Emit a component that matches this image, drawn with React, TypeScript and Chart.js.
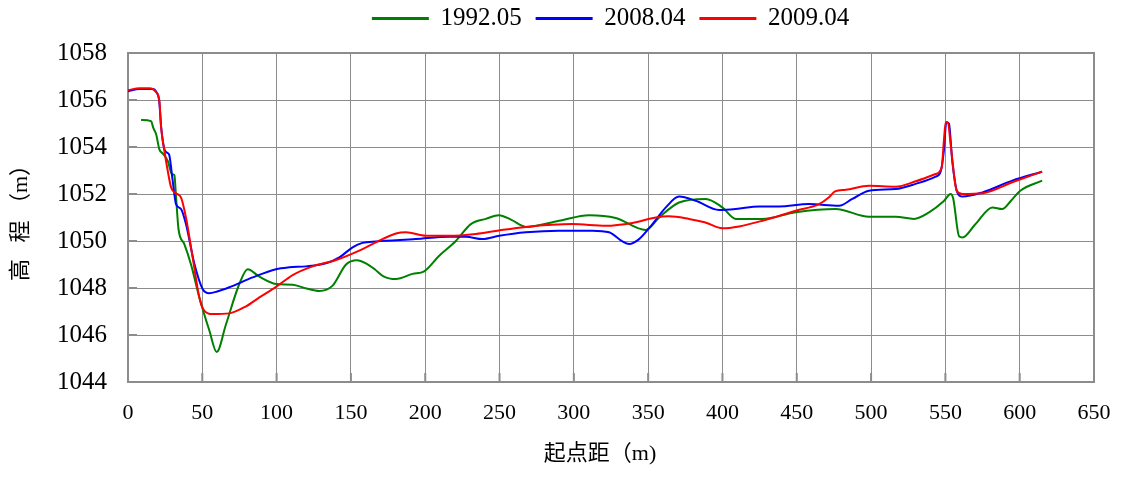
import React, { useEffect, useRef } from "react";
import { Chart, registerables } from "chart.js";

Chart.register(...registerables);

// ---- data (起点距 m, 高程 m) ----
const SERIES_NAMES = ["1992.05", "2008.04", "2009.04"];
const SERIES_COLORS = ["#008000", "#0000ff", "#ff0000"];

const X_1992 = [8.8, 15.5, 17.1, 18.9, 21.1, 23.3, 26.7, 29.5, 31.2, 32.3, 34.0, 37.9, 42.4, 48, 54.7, 59.7, 66, 74.9, 80.5, 88.4, 99.6, 110.8, 120, 128.7, 137.7, 146.7, 154, 160.1, 166, 171.3, 180.3, 191.5, 199.3, 209.4, 220.6, 230.7, 240.8, 249.5, 258, 267.7, 290, 310.3, 328.2, 348.4, 357.4, 370.8, 388.8, 399.9, 409, 426.8, 449.3, 476.2, 498.6, 516.5, 528.9, 539, 549, 553.5, 555.3, 559.2, 561.5, 570, 581.6, 588.2, 594, 600.4, 615.1];
const Y_1992 = [1055.15, 1055.1, 1054.8, 1054.55, 1053.9, 1053.73, 1053.42, 1052.85, 1052.8, 1051.9, 1050.5, 1049.87, 1049.0, 1047.6, 1046.2, 1045.28, 1046.47, 1048.17, 1048.8, 1048.48, 1048.17, 1048.14, 1047.98, 1047.87, 1048.1, 1049.0, 1049.18, 1049.05, 1048.8, 1048.52, 1048.38, 1048.6, 1048.71, 1049.37, 1050.0, 1050.72, 1050.94, 1051.1, 1050.9, 1050.6, 1050.86, 1051.1, 1050.98, 1050.47, 1051.0, 1051.64, 1051.79, 1051.43, 1050.94, 1050.94, 1051.22, 1051.36, 1051.03, 1051.03, 1050.94, 1051.22, 1051.7, 1052.0, 1051.8, 1050.2, 1050.15, 1050.7, 1051.43, 1051.36, 1051.7, 1052.14, 1052.57];

const X_2008 = [0, 7.7, 16.6, 19, 21, 22.3, 24.5, 26.5, 27.8, 30, 32.3, 35.7, 39, 44.7, 50.2, 54.7, 60, 68.2, 83.9, 99.6, 108.5, 119.8, 133.2, 142.2, 151.1, 157.8, 166.8, 193.7, 216.1, 227.4, 238.5, 249.8, 267.7, 290, 312.5, 323.7, 332.7, 337.2, 343.9, 352.9, 361.9, 370.8, 382, 397.7, 409, 424.6, 438, 458.2, 478.4, 487.4, 498.6, 516.5, 530, 543.4, 546.8, 549, 550.6, 552.4, 554.6, 558, 561.5, 575, 595, 615.1];
const Y_2008 = [1056.37, 1056.47, 1056.47, 1056.35, 1055.95, 1054.85, 1053.9, 1053.75, 1053.65, 1052.6, 1051.57, 1051.36, 1050.72, 1049.02, 1047.96, 1047.78, 1047.85, 1048.03, 1048.45, 1048.8, 1048.88, 1048.92, 1049.05, 1049.3, 1049.73, 1049.92, 1049.98, 1050.08, 1050.18, 1050.18, 1050.08, 1050.22, 1050.37, 1050.44, 1050.44, 1050.37, 1049.98, 1049.87, 1050.08, 1050.72, 1051.43, 1051.89, 1051.71, 1051.32, 1051.36, 1051.47, 1051.47, 1051.57, 1051.5, 1051.79, 1052.14, 1052.21, 1052.43, 1052.74, 1052.95, 1053.84, 1055.05, 1055.0, 1053.42, 1052.07, 1051.89, 1052.07, 1052.57, 1052.95];

const X_2009 = [0, 7.7, 14.5, 18.9, 21.1, 22.3, 24.5, 26.7, 29, 32.3, 35.7, 39, 43.5, 48, 51.4, 57, 68.2, 79.4, 88.4, 99.6, 110.8, 124.2, 140, 155.6, 166.8, 180.3, 187, 200.5, 216.1, 234.1, 248.6, 267.7, 299, 321.5, 339.4, 355.1, 364, 377.5, 388, 400, 411.2, 426.8, 449.3, 465, 471.7, 475.7, 482.9, 498.6, 516.5, 530, 543.4, 547.5, 549, 550.2, 551.7, 553.5, 557.6, 561.5, 575, 595, 615.1];
const Y_2009 = [1056.42, 1056.5, 1056.5, 1056.33, 1055.97, 1054.83, 1053.84, 1053.0, 1052.28, 1052.03, 1051.85, 1051.0, 1049.3, 1047.6, 1047.03, 1046.89, 1046.92, 1047.22, 1047.6, 1048.05, 1048.55, 1048.92, 1049.19, 1049.59, 1049.94, 1050.32, 1050.37, 1050.22, 1050.22, 1050.3, 1050.44, 1050.6, 1050.72, 1050.65, 1050.77, 1051.0, 1051.05, 1050.94, 1050.8, 1050.54, 1050.62, 1050.86, 1051.29, 1051.57, 1051.86, 1052.11, 1052.18, 1052.35, 1052.31, 1052.54, 1052.85, 1053.13, 1054.27, 1055.05, 1055.05, 1054.13, 1052.14, 1052.0, 1052.03, 1052.5, 1052.95];

const X_MIN = 0;
const X_MAX = 650;
const X_STEP = 50;
const Y_MIN = 1044;
const Y_MAX = 1058;
const Y_STEP = 2;

const X_TITLE = "起点距（m)　";
const Y_TITLE = "高   程 （m）";

const FONT = "'Liberation Serif', 'Times New Roman', 'Noto Sans CJK SC', serif";
const GRID = "#8c8c8c";

const pts = (xs: number[], ys: number[]) => xs.map((x, i) => ({ x, y: ys[i] }));

const framePlugin = {
  id: "frame",
  beforeDatasetsDraw(chart: any) {
    const { ctx, chartArea: a, scales } = chart;
    ctx.save();
    ctx.strokeStyle = GRID;
    ctx.lineWidth = 2;
    ctx.strokeRect(a.left, a.top, a.right - a.left, a.bottom - a.top);
    // inward tick marks
    ctx.beginPath();
    scales.y.ticks.forEach((t: any) => {
      const p = scales.y.getPixelForValue(t.value);
      ctx.moveTo(a.left, p);
      ctx.lineTo(a.left + 9, p);
    });
    scales.x.ticks.forEach((t: any) => {
      const p = scales.x.getPixelForValue(t.value);
      ctx.moveTo(p, a.bottom);
      ctx.lineTo(p, a.bottom - 9);
    });
    ctx.stroke();
    ctx.restore();
  },
};

export default function App() {
  const ref = useRef<HTMLCanvasElement | null>(null);

  useEffect(() => {
    if (!ref.current) return;
    const data = [pts(X_1992, Y_1992), pts(X_2008, Y_2008), pts(X_2009, Y_2009)];
    const chart = new Chart(ref.current, {
      type: "line",
      data: {
        datasets: data.map((d, i) => ({
          label: SERIES_NAMES[i],
          data: d,
          borderColor: SERIES_COLORS[i],
          backgroundColor: SERIES_COLORS[i],
          borderWidth: 2,
          pointRadius: 0,
          fill: false,
          cubicInterpolationMode: "monotone" as const,
          order: 3 - i,
          xAxisID: "x",
        })),
      },
      options: {
        animation: false,
        responsive: true,
        maintainAspectRatio: false,
        layout: { padding: { left: 0, right: 27, top: -9, bottom: 0 } },
        plugins: {
          tooltip: { enabled: false },
          legend: {
            position: "top",
            fullSize: false,
            labels: {
              boxWidth: 55,
              boxHeight: 1,
              padding: 15,
              color: "#000",
              font: { family: FONT, size: 25 },
              sort: (a: any, b: any) => a.datasetIndex - b.datasetIndex,
            },
          },
        },
        scales: {
          x: {
            type: "linear",
            min: X_MIN,
            max: X_MAX,
            ticks: { stepSize: X_STEP, color: "#000", padding: 18, font: { family: FONT, size: 22 }, maxRotation: 0, callback: (v: any) => String(v) },
            grid: { color: GRID, lineWidth: 1, drawTicks: false },
            border: { display: false },
            title: { display: true, text: X_TITLE, color: "#000", font: { family: FONT, size: 22 }, padding: { top: 0, bottom: 10 } },
            afterFit: (s: any) => { s.height = 95; s.paddingLeft = 0; s.paddingRight = 0; },
          },
          xTop: {
            type: "linear",
            position: "top",
            min: X_MIN,
            max: X_MAX,
            display: true,
            ticks: { display: false },
            grid: { display: false, drawTicks: false },
            border: { display: false },
            afterFit: (s: any) => { s.height = 12; s.paddingLeft = 0; s.paddingRight = 0; },
          },
          y: {
            type: "linear",
            min: Y_MIN,
            max: Y_MAX,
            ticks: { stepSize: Y_STEP, color: "#000", padding: 21, font: { family: FONT, size: 25 }, callback: (v: any) => String(v) },
            grid: { color: GRID, lineWidth: 1, drawTicks: false },
            border: { display: false },
            title: { display: true, text: Y_TITLE, color: "#000", font: { family: FONT, size: 22 }, padding: { top: 8, bottom: 0 } },
            afterFit: (s: any) => { s.width = 128; },
          },
        },
      },
      plugins: [framePlugin],
    });
    return () => chart.destroy();
  }, []);

  return (
    <div style={{ position: "fixed", left: 0, top: 0, width: 1121, height: 477, background: "#fff" }}>
      <canvas ref={ref} />
    </div>
  );
}
